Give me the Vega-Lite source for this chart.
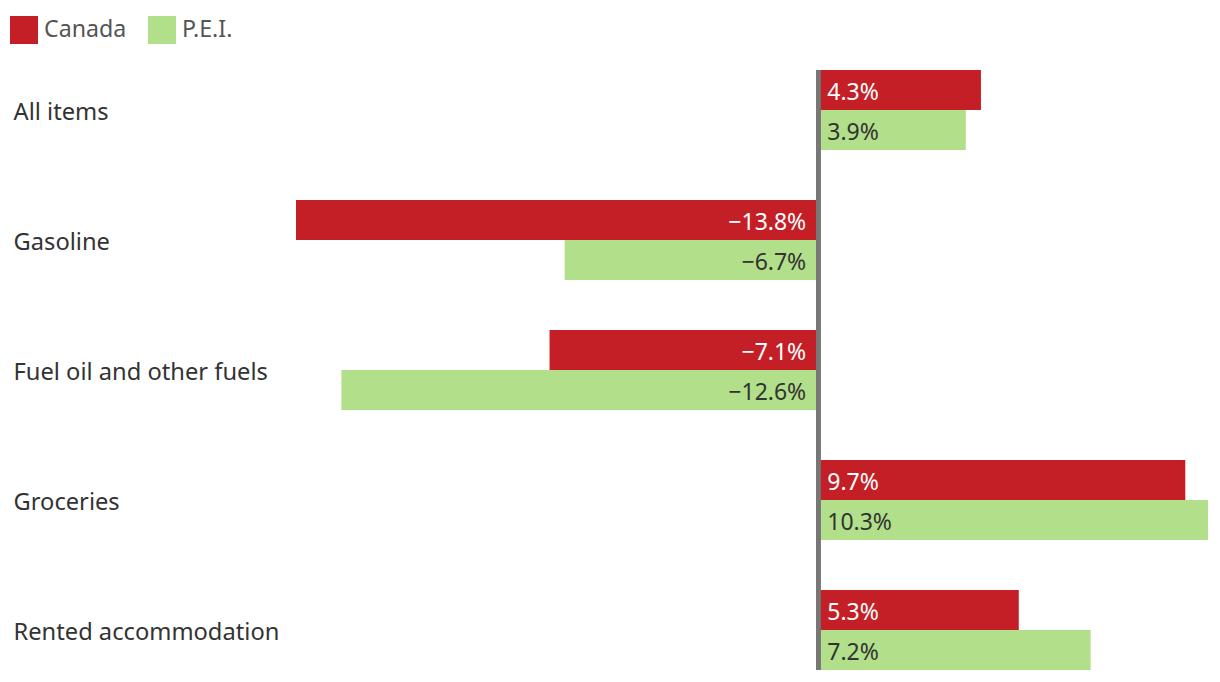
{
  "$schema": "https://vega.github.io/schema/vega-lite/v6.json",
  "autosize": "none",
  "width": 912,
  "height": 600,
  "padding": {"left": 296, "top": 70, "right": 12, "bottom": 12},
  "background": "white",
  "config": {
    "font": "Noto Sans",
    "view": {"stroke": null}
  },
  "data": {
    "values": [
      {"category": "All items", "series": "Canada", "value": 4.3},
      {"category": "All items", "series": "P.E.I.", "value": 3.9},
      {"category": "Gasoline", "series": "Canada", "value": -13.8},
      {"category": "Gasoline", "series": "P.E.I.", "value": -6.7},
      {"category": "Fuel oil and other fuels", "series": "Canada", "value": -7.1},
      {"category": "Fuel oil and other fuels", "series": "P.E.I.", "value": -12.6},
      {"category": "Groceries", "series": "Canada", "value": 9.7},
      {"category": "Groceries", "series": "P.E.I.", "value": 10.3},
      {"category": "Rented accommodation", "series": "Canada", "value": 5.3},
      {"category": "Rented accommodation", "series": "P.E.I.", "value": 7.2}
    ]
  },
  "transform": [
    {"calculate": "format(datum.value, '.1f') + '%'", "as": "label"}
  ],
  "encoding": {
    "y": {
      "field": "category",
      "type": "nominal",
      "sort": null,
      "scale": {"paddingInner": 0.3846, "paddingOuter": 0},
      "axis": {
        "title": null,
        "orient": "left",
        "labelAlign": "left",
        "labelPadding": 283,
        "labelOffset": 3,
        "ticks": false,
        "domain": false,
        "labelFontSize": 23.7,
        "labelColor": "#333333",
        "labelLimit": 0,
        "labelFont": "Noto Sans"
      }
    },
    "yOffset": {
      "field": "series",
      "type": "nominal",
      "scale": {"paddingInner": 0, "paddingOuter": 0}
    }
  },
  "layer": [
    {
      "mark": {"type": "bar"},
      "encoding": {
        "x": {
          "field": "value",
          "type": "quantitative",
          "scale": {"domain": [-13.8, 10.3], "nice": false, "zero": false},
          "axis": null
        },
        "color": {
          "field": "series",
          "type": "nominal",
          "scale": {"domain": ["Canada", "P.E.I."], "range": ["#c41f26", "#b2df8a"]},
          "legend": {
            "title": null,
            "orient": "none",
            "direction": "horizontal",
            "legendX": -286,
            "legendY": -54,
            "symbolType": "square",
            "symbolSize": 784,
            "symbolStrokeWidth": 0,
            "symbolOpacity": 1,
            "labelFontSize": 23.2,
            "labelColor": "#555555",
            "labelOffset": 6,
            "columnPadding": 21,
            "labelFont": "Noto Sans"
          }
        }
      }
    },
    {
      "transform": [{"filter": "datum.value >= 0"}],
      "mark": {"type": "text", "align": "left", "baseline": "middle", "dx": 9, "dy": 3, "fontSize": 23},
      "encoding": {
        "x": {"datum": 0, "type": "quantitative"},
        "text": {"field": "label"},
        "color": {"condition": {"test": "datum.series === 'Canada'", "value": "white"}, "value": "#333333"}
      }
    },
    {
      "transform": [{"filter": "datum.value < 0"}],
      "mark": {"type": "text", "align": "right", "baseline": "middle", "dx": -12, "dy": 3, "fontSize": 23},
      "encoding": {
        "x": {"datum": 0, "type": "quantitative"},
        "text": {"field": "label"},
        "color": {"condition": {"test": "datum.series === 'Canada'", "value": "white"}, "value": "#333333"}
      }
    },
    {
      "mark": {"type": "rule", "color": "#777777", "strokeWidth": 4},
      "encoding": {
        "x": {"datum": 0, "type": "quantitative"},
        "y": null,
        "yOffset": null
      }
    }
  ]
}
